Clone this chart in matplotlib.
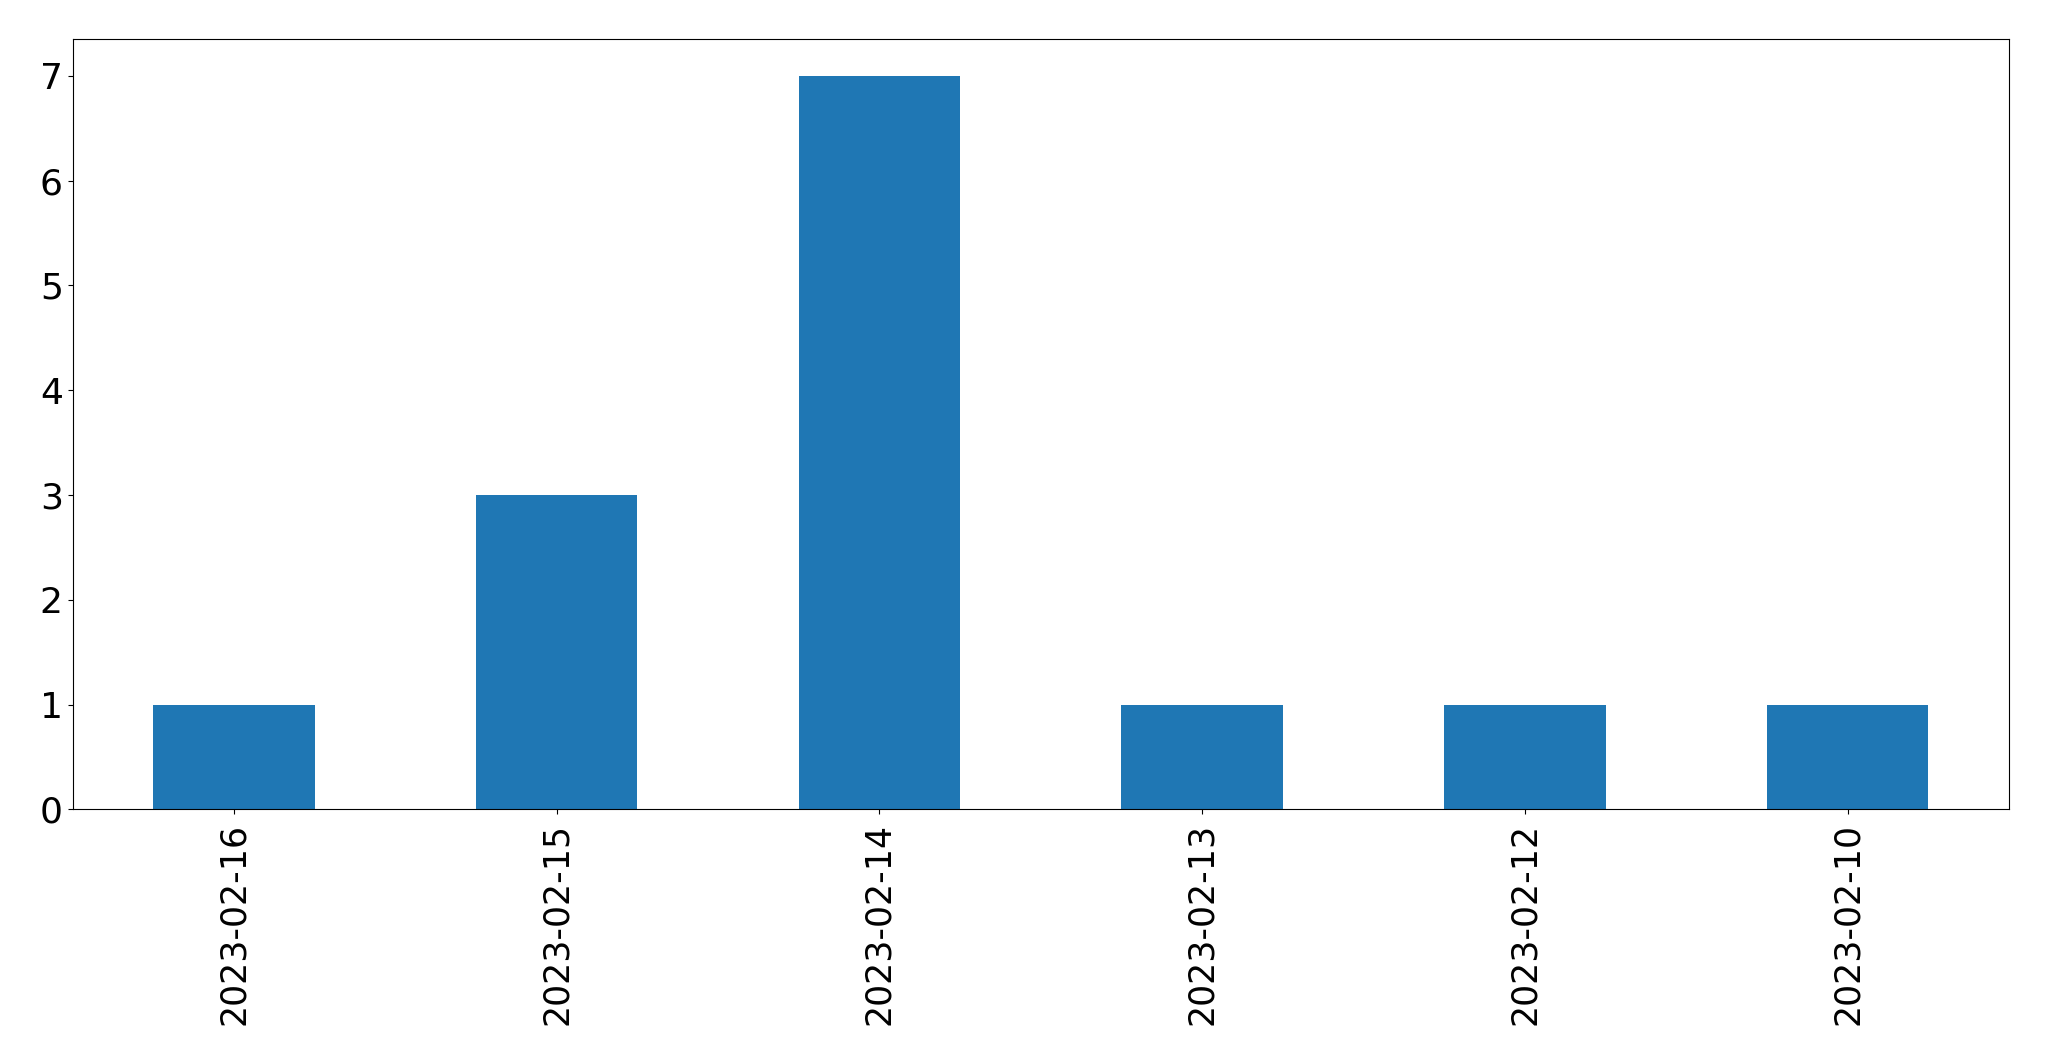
import matplotlib
matplotlib.use("Agg")
import matplotlib.pyplot as plt

dates = ["2023-02-16", "2023-02-15", "2023-02-14", "2023-02-13", "2023-02-12", "2023-02-10"]
counts = [1, 3, 7, 1, 1, 1]

fig = plt.figure(figsize=(20.49, 10.61), dpi=100)
ax = fig.add_axes([72.5 / 2049, (1061 - 809.3) / 1061, (2009 - 72.5) / 2049, (809.3 - 39.3) / 1061])
x = list(range(len(dates)))
ax.bar(x, counts, width=0.5, color="#1f77b4")
ax.set_xlim(-0.5, len(dates) - 0.5)
ax.set_ylim(0, max(counts) * 1.05)
ax.set_xticks(x)
ax.set_xticklabels(dates, rotation=90, fontsize=25)
ax.tick_params(axis="x", pad=6.3)
ax.tick_params(axis="y", labelsize=26)
fig.savefig("out.png", dpi=100)
